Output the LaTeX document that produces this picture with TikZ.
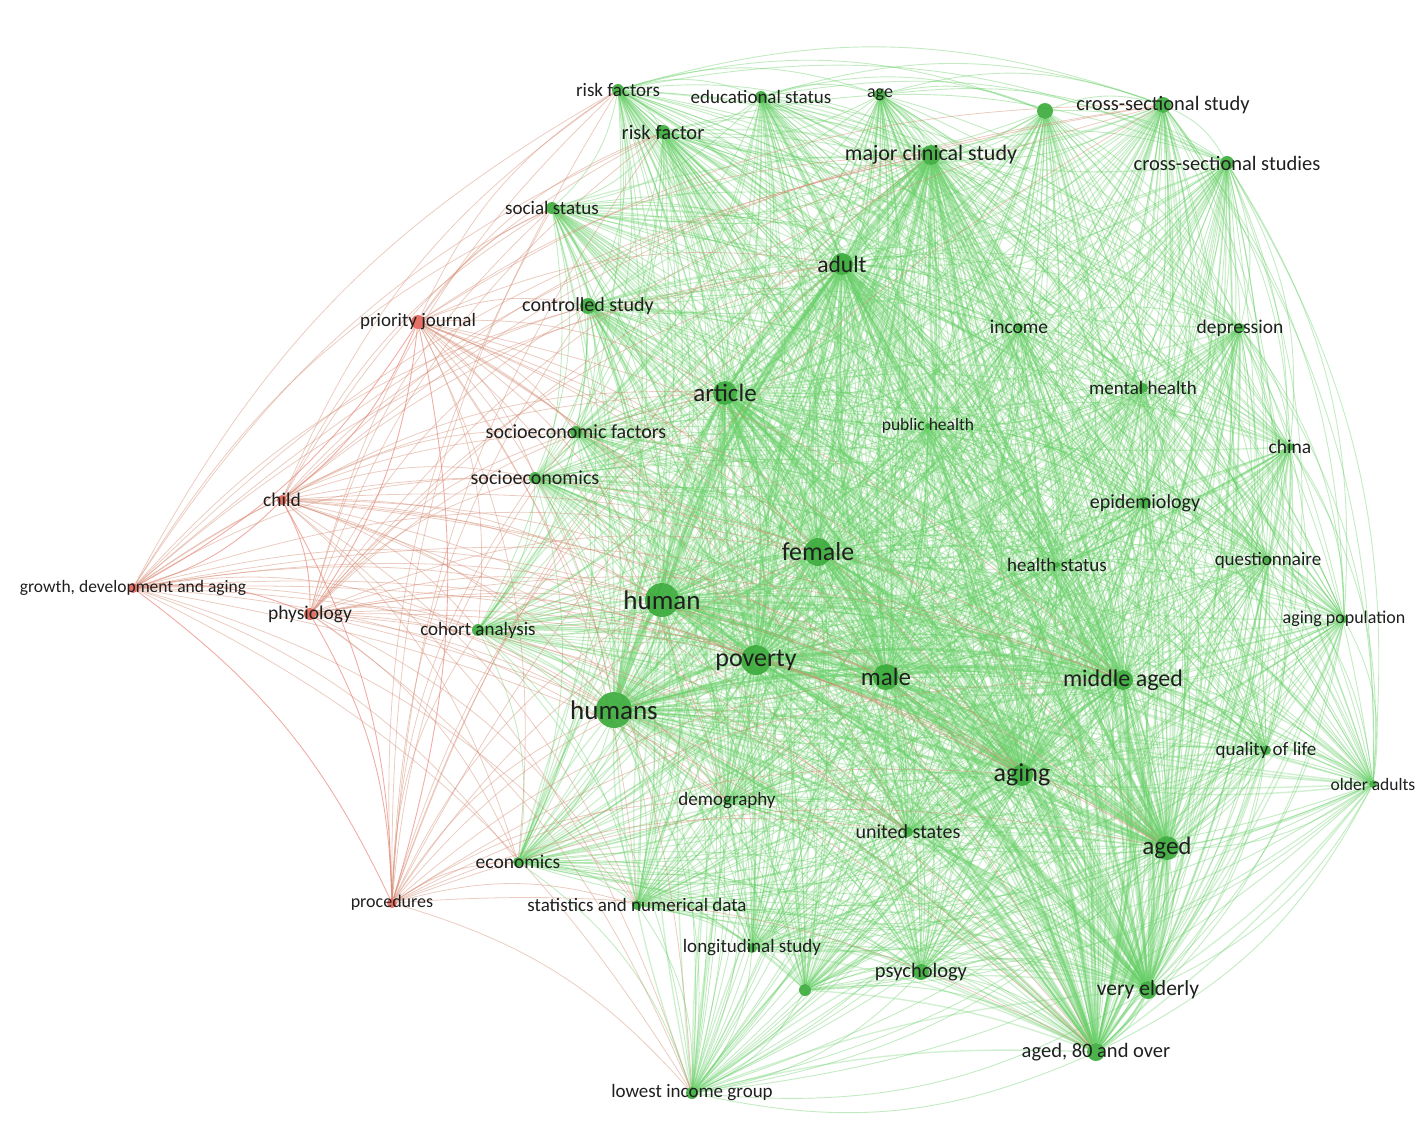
\documentclass[tikz,border=0pt]{standalone}
\usepackage{fontspec}
\setmainfont{Carlito}
\pgfdeclarelayer{edges}
\pgfsetlayers{edges,main}
\definecolor{kwgreen}{RGB}{56,170,56}
\definecolor{kwred}{RGB}{226,96,84}
\definecolor{edgegreen}{RGB}{102,206,102}
\definecolor{edgered}{RGB}{232,128,116}
\definecolor{edgemix}{RGB}{212,140,116}
\begin{document}
\begin{tikzpicture}[x=1pt, y=-1pt,
    gnode/.style={circle, fill=kwgreen, fill opacity=.9, inner sep=0pt, minimum size=#1},
    rnode/.style={circle, fill=kwred, fill opacity=.9, inner sep=0pt, minimum size=#1},
    lbl/.style={font=\fontsize{#1}{#1}\selectfont, text=black!88, inner sep=0pt},
    gedge/.style={edgegreen, opacity=.4, line width=.9pt},
    wedge/.style={edgegreen, opacity=.3, line width=1.4pt},
    hedge/.style={edgegreen, opacity=.4, line width=2.6pt},
    redge/.style={edgered, opacity=.65, line width=.9pt},
    medge/.style={edgemix, opacity=.45, line width=.8pt}]
  \useasboundingbox (0,0) rectangle (1424,1133);
  % top row
  \node[gnode=12, label={[lbl=19]center:risk factors}] (rfs) at (618,90) {};
  \node[gnode=12, label={[lbl=19]center:educational status}] (edu) at (761,97) {};
  \node[gnode=12, label={[lbl=18]center:age}] (age) at (880,95) {};
  \node[gnode=16] (unk1) at (1045,111) {};
  \node[gnode=16, label={[lbl=20.5]center:cross-sectional study}] (css) at (1163,105) {};
  \node[gnode=14, label={[lbl=20.5]center:risk factor}] (rf) at (663,132) {};
  \node[gnode=20, label={[lbl=22]center:major clinical study}] (mcs) at (931,155) {};
  \node[gnode=14, label={[lbl=20.5]center:cross-sectional studies}] (csss) at (1227,163) {};
  \node[gnode=12, label={[lbl=19]center:social status}] (sst) at (552,208) {};
  \node[gnode=22, label={[lbl=23.5]center:adult}] (adult) at (842,264) {};
  \node[gnode=16, label={[lbl=20]center:controlled study}] (cst) at (588,306) {};
  \node[gnode=8, label={[lbl=19.5]center:income}] (income) at (1019,327) {};
  \node[gnode=10, label={[lbl=19.5]center:depression}] (depr) at (1240,328) {};
  \node[gnode=10, label={[lbl=19]center:mental health}] (mh) at (1143,388) {};
  % middle
  \node[gnode=24, label={[lbl=25]center:article}] (article) at (725,393) {};
  \node[gnode=6, label={[lbl=17.5]center:public health}] (ph) at (928,426) {};
  \node[gnode=12, label={[lbl=20]center:socioeconomic factors}] (sef) at (576,432) {};
  \node[gnode=8, label={[lbl=19.5]center:china}] (china) at (1290,447) {};
  \node[gnode=12, label={[lbl=20]center:socioeconomics}] (seco) at (535,478) {};
  \node[gnode=12, label={[lbl=20]center:epidemiology}] (epi) at (1145,503) {};
  \node[gnode=28, label={[lbl=26]center:female}] (female) at (818,552) {};
  \node[gnode=6, label={[lbl=19]center:health status}] (hs) at (1057,565) {};
  \node[gnode=8, label={[lbl=19]center:questionnaire}] (quest) at (1268,560) {};
  \node[gnode=34, label={[lbl=27]center:human}] (human) at (662,600) {};
  \node[gnode=12, label={[lbl=19]center:cohort analysis}] (coh) at (478,630) {};
  \node[gnode=8, label={[lbl=18]center:aging population}] (agp) at (1344,619) {};
  \node[gnode=30, label={[lbl=26]center:poverty}] (poverty) at (756,660) {};
  \node[gnode=26, label={[lbl=25]center:male}] (male) at (886,677) {};
  \node[gnode=20, label={[lbl=24]center:middle aged}] (mid) at (1123,680) {};
  \node[gnode=36, label={[lbl=27]center:humans}] (humans) at (614,710) {};
  % lower part
  \node[gnode=10, label={[lbl=19]center:quality of life}] (qol) at (1266,750) {};
  \node[gnode=22, label={[lbl=26]center:aging}] (aging) at (1022,775) {};
  \node[gnode=8, label={[lbl=17.5]center:older adults}] (olda) at (1373,784) {};
  \node[gnode=8, label={[lbl=19]center:demography}] (demo) at (727,801) {};
  \node[gnode=10, label={[lbl=20]center:united states}] (us) at (908,832) {};
  \node[gnode=24, label={[lbl=25]center:aged}] (aged) at (1167,848) {};
  \node[gnode=10, label={[lbl=19.5]center:economics}] (econ) at (518,862) {};
  \node[gnode=10, label={[lbl=19]center:statistics and numerical data}] (stat) at (637,905) {};
  \node[gnode=10, label={[lbl=19]center:longitudinal study}] (long) at (752,948) {};
  \node[gnode=12] (unk2) at (805,990) {};
  \node[gnode=16, label={[lbl=20.5]center:psychology}] (psy) at (921,972) {};
  \node[gnode=18, label={[lbl=21.5]center:very elderly}] (vel) at (1148,990) {};
  \node[gnode=18, label={[lbl=20.5]center:{aged, 80 and over}}] (a80) at (1096,1052) {};
  \node[gnode=12, label={[lbl=19]center:lowest income group}] (lig) at (692,1093) {};
  % red cluster
  \node[rnode=14, label={[lbl=19]center:priority journal}] (pj) at (418,322) {};
  \node[rnode=10, label={[lbl=19.5]center:child}] (child) at (282,500) {};
  \node[rnode=10, label={[lbl=17.5]center:{growth, development and aging}}] (gda) at (133,588) {};
  \node[rnode=12, label={[lbl=19.5]center:physiology}] (phys) at (310,614) {};
  \node[rnode=10, label={[lbl=18]center:procedures}] (proc) at (392,903) {};

  \def\glist{rfs,edu,age,unk1,css,rf,mcs,csss,sst,adult,cst,income,depr,mh,article,ph,sef,china,seco,epi,female,hs,quest,human,coh,agp,poverty,male,mid,humans,qol,aging,olda,demo,us,aged,econ,stat,long,unk2,psy,vel,a80,lig}
  \def\hlist{humans,human,poverty,female,male,article,adult,aged,aging,mid,mcs,vel,a80}
  \def\rlist{pj,child,gda,phys,proc}
  \def\mlist{humans,human,poverty,article,female,male,adult,aged,aging,cst,sef,seco,sst,rfs,rf,coh,econ,stat,lig,demo,mcs,mid,us,a80,css}
  \begin{pgfonlayer}{edges}
    % green links
    \foreach \a [count=\i] in \glist {
      \foreach \b [count=\j] in \glist {
        \ifnum\j>\i \draw[gedge] (\a) to[bend left=18] (\b); \fi
      }
    }
    % links of the big keywords
    \foreach \a in \hlist {
      \foreach \b in \glist {
        \draw[wedge] (\a) to[bend right=8] (\b);
      }
    }
    % strong links
    \foreach \a [count=\i] in \hlist {
      \foreach \b [count=\j] in \hlist {
        \ifnum\j>\i \draw[hedge] (\a) to[bend left=10] (\b); \fi
      }
    }
    % red links
    \foreach \a [count=\i] in \rlist {
      \foreach \b [count=\j] in \rlist {
        \ifnum\j>\i \draw[redge] (\a) to[bend left=14] (\b); \fi
      }
      \foreach \b in \mlist {
        \draw[medge] (\a) to[bend left=16] (\b);
      }
    }
  \end{pgfonlayer}
\end{tikzpicture}
\end{document}
